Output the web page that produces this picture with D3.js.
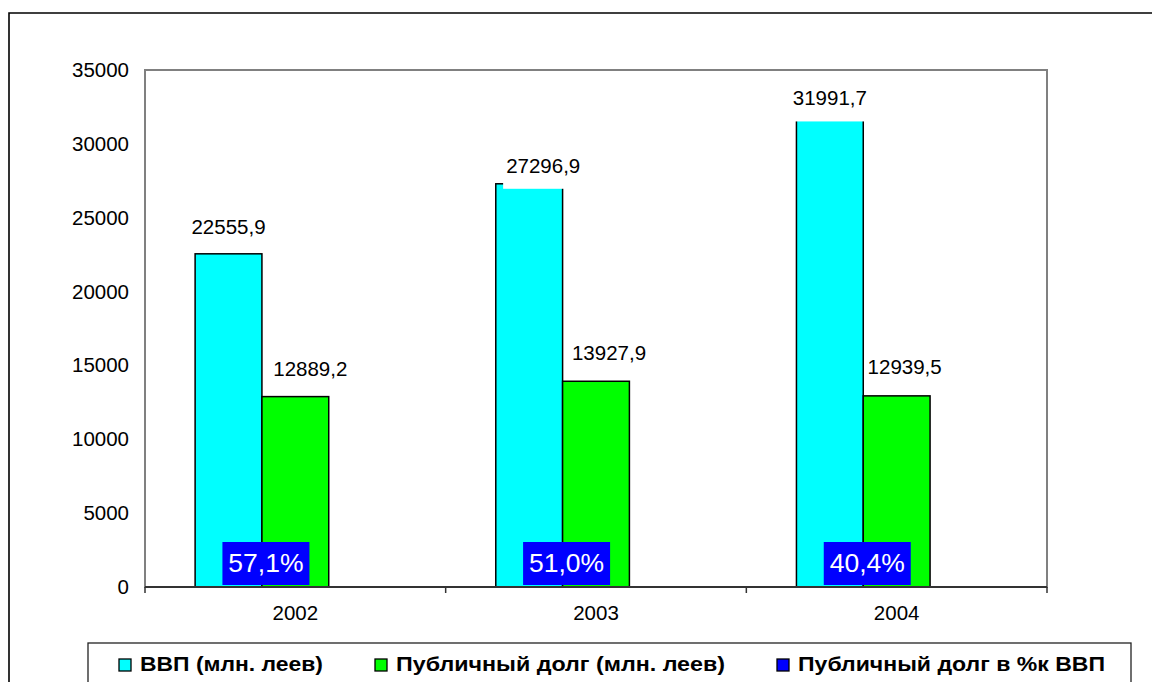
<!DOCTYPE html>
<html>
<head>
<meta charset="utf-8">
<script src="https://cdn.jsdelivr.net/npm/d3@7"></script>
<style>
  html, body { margin: 0; padding: 0; background: #fff; }
  svg { display: block; }
  text { font-family: "Liberation Sans", Arial, sans-serif; }
</style>
</head>
<body>
<svg id="chart" width="1152" height="682"></svg>
<script>
// Years on the category axis
const years = ["2002", "2003", "2004"];
// ВВП, млн. леев
const gdp = [22555.9, 27296.9, 31991.7];
// Публичный долг, млн. леев
const debt = [12889.2, 13927.9, 12939.5];
// Публичный долг в % к ВВП
const debtPct = [57.1, 51.0, 40.4];
// Value-axis tick labels
const yTicks = [0, 5000, 10000, 15000, 20000, 25000, 30000, 35000];
// Legend captions
const legendNames = ["ВВП (млн. леев)", "Публичный долг (млн. леев)", "Публичный долг в %к ВВП"];

const seriesKeys = ["gdp", "debt", "pct"];
const colors = { gdp: "#00FFFF", debt: "#00FF00", pct: "#0000FF" };

// Hand-placed label offsets (dx from bar centre, gap above bar top)
const labelShift = {
  gdp:  { "2002": [0, 20], "2003": [14, 11], "2004": [0, 9] },
  debt: { "2002": [15, 21], "2003": [13, 21], "2004": [8, 22] }
};

const svg = d3.select("#chart");
const plot = { left: 145, right: 1047, top: 70, bottom: 587 };

// Outer frame (runs past the right and bottom edges)
svg.append("path")
  .attr("d", "M9,700 V13 H1170")
  .attr("fill", "none").attr("stroke", "#000").attr("stroke-width", 1.6);

const y = d3.scaleLinear().domain([0, 35000]).range([plot.bottom, plot.top]);
const x0 = d3.scaleBand().domain(years).range([plot.left, plot.right]).padding(0);
const bw = x0.bandwidth();
const x1 = d3.scaleBand().domain(seriesKeys).range([bw / 6, bw * 5 / 6]).padding(0);

// Plot area frame
svg.append("rect")
  .attr("x", plot.left).attr("y", plot.top)
  .attr("width", plot.right - plot.left).attr("height", plot.bottom - plot.top)
  .attr("fill", "#fff").attr("stroke", "#808080").attr("stroke-width", 2);

// Y axis labels
const yAxis = svg.append("g")
  .attr("transform", `translate(${plot.left},0)`)
  .call(d3.axisLeft(y).tickValues(yTicks).tickSize(0).tickPadding(16).tickFormat(d3.format("d")));
yAxis.select(".domain").remove();
yAxis.selectAll("text").attr("font-size", 20.5).attr("fill", "#000")
  .attr("font-family", "'Liberation Sans', Arial, sans-serif");

const rows = years.map((yr, i) => ({ year: yr, gdp: gdp[i], debt: debt[i], pct: debtPct[i] }));
const fmt = v => d3.format(".1f")(v).replace(".", ",");

// Bars
const groups = svg.append("g").selectAll("g").data(rows).join("g")
  .attr("transform", d => `translate(${x0(d.year)},0)`);

groups.selectAll("rect.bar")
  .data(d => seriesKeys.map(k => ({ key: k, year: d.year, value: d[k] })))
  .join("rect").attr("class", "bar")
  .attr("x", d => x1(d.key))
  .attr("y", d => y(d.value))
  .attr("width", x1.bandwidth())
  .attr("height", d => y(0) - y(d.value))
  .attr("fill", d => colors[d.key])
  .attr("stroke", d => d.key === "pct" ? "none" : "#000")
  .attr("stroke-width", 1.5);

// Value labels above the bars, on a white backing
["gdp", "debt"].forEach(k => {
  rows.forEach(d => {
    const [dx, gap] = labelShift[k][d.year];
    const cx = x0(d.year) + x1(k) + x1.bandwidth() / 2 + dx;
    const base = y(d[k]) - gap;
    const g = svg.append("g");
    const bg = g.append("rect").attr("fill", "#fff");
    const t = g.append("text")
      .attr("x", cx).attr("y", base)
      .attr("text-anchor", "middle").attr("font-size", 20.5).attr("fill", "#000")
      .text(fmt(d[k]));
    const w = t.node().getComputedTextLength();
    bg.attr("x", cx - w / 2 - 3).attr("width", w + 6)
      .attr("y", base - 18).attr("height", 34);
  });
});

// X axis line and category ticks
svg.append("line")
  .attr("x1", plot.left).attr("x2", plot.right)
  .attr("y1", y(0)).attr("y2", y(0))
  .attr("stroke", "#333").attr("stroke-width", 2);
const xAxis = svg.append("g")
  .attr("transform", `translate(0,${y(0)})`)
  .call(d3.axisBottom(x0).tickSize(0).tickPadding(18));
xAxis.select(".domain").remove();
xAxis.selectAll("text").attr("font-size", 20.5).attr("fill", "#000")
  .attr("font-family", "'Liberation Sans', Arial, sans-serif");
svg.append("g").selectAll("line")
  .data(years.map(yr => x0(yr)).concat([plot.right]))
  .join("line")
  .attr("x1", d => d).attr("x2", d => d)
  .attr("y1", y(0)).attr("y2", y(0) + 6)
  .attr("stroke", "#333").attr("stroke-width", 1.5);

// Percent-of-GDP labels in blue boxes at the foot of each pair
rows.forEach(d => {
  const cx = x0(d.year) + x1("debt") + 4;
  svg.append("rect")
    .attr("x", cx - 43.5).attr("y", y(0) - 45)
    .attr("width", 87).attr("height", 43)
    .attr("fill", colors.pct);
  svg.append("text")
    .attr("x", cx).attr("y", y(0) - 15)
    .attr("text-anchor", "middle").attr("font-size", 26.5).attr("fill", "#fff")
    .text(fmt(d.pct) + "%");
});

// Legend
const legend = svg.append("g");
legend.append("rect")
  .attr("x", 88).attr("y", 643).attr("width", 1043).attr("height", 80)
  .attr("fill", "#fff").attr("stroke", "#222").attr("stroke-width", 1.3);
const legendX = [119, 375, 777];
const legendWidth = [183, 329, 307];
seriesKeys.forEach((k, i) => {
  legend.append("rect")
    .attr("x", legendX[i]).attr("y", 659).attr("width", 12).attr("height", 12)
    .attr("fill", colors[k]).attr("stroke", "#000").attr("stroke-width", 1.3);
  legend.append("text")
    .attr("x", legendX[i] + 21).attr("y", 671)
    .attr("font-size", 20).attr("font-weight", "bold").attr("fill", "#000")
    .attr("textLength", legendWidth[i]).attr("lengthAdjust", "spacingAndGlyphs")
    .text(legendNames[i]);
});
</script>
</body>
</html>
